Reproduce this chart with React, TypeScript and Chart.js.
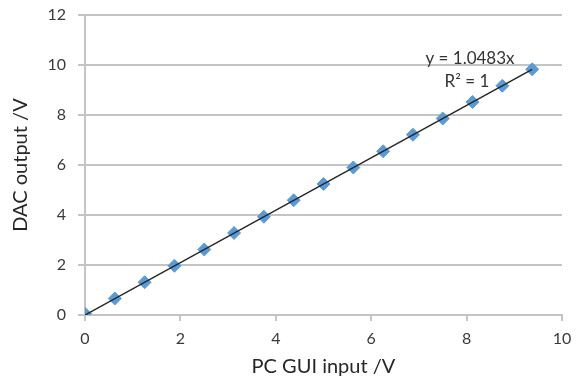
import React, { useEffect, useRef } from "react";
import { Chart, registerables } from "chart.js";

Chart.register(...registerables);

const inputV = [0, 0.625, 1.25, 1.875, 2.5, 3.125, 3.75, 4.375, 5, 5.625, 6.25, 6.875, 7.5, 8.125, 8.75, 9.375];
const outputV = [0.05, 0.66, 1.31, 1.97, 2.62, 3.28, 3.93, 4.59, 5.24, 5.9, 6.55, 7.21, 7.86, 8.52, 9.17, 9.83];
const trendX = [0, 9.375];
const trendY = [0, 9.828];
const equationLines = ["y = 1.0483x", "R² = 1"];
const xTitle = "PC GUI input /V";
const yTitle = "DAC output /V";

const FONT = "Lato, 'Open Sans', sans-serif";

const annotationPlugin = {
  id: "trendLabel",
  afterDatasetsDraw(chart: any) {
    const { ctx, chartArea } = chart;
    ctx.save();
    ctx.fillStyle = "#333333";
    ctx.font = `17px ${FONT}`;
    ctx.textAlign = "center";
    ctx.textBaseline = "middle";
    ctx.fillText(equationLines[0], chartArea.right - 92, chartArea.top + 44);
    ctx.fillText(equationLines[1], chartArea.right - 95, chartArea.top + 67);
    ctx.restore();
  },
};

export default function App() {
  const ref = useRef<HTMLCanvasElement>(null);
  useEffect(() => {
    document.body.style.margin = "0";
    const chart = new Chart(ref.current!, {
      type: "scatter",
      data: {
        datasets: [
          {
            type: "line",
            data: trendX.map((x, i) => ({ x, y: trendY[i] })),
            borderColor: "#262626",
            borderWidth: 1.5,
            pointRadius: 0,
            fill: false,
            order: 0,
          } as any,
          {
            data: inputV.map((x, i) => ({ x, y: outputV[i] })),
            pointStyle: "rectRot",
            pointRadius: 6.5,
            backgroundColor: "#5B9BD5",
            borderColor: "#5B9BD5",
            borderWidth: 1,
            order: 1,
          },
        ],
      },
      options: {
        animation: false,
        responsive: false,
        layout: { padding: { top: 15, right: 14, left: 0, bottom: 0 } },
        plugins: { legend: { display: false }, tooltip: { enabled: false } },
        scales: {
          x: {
            type: "linear",
            min: 0,
            max: 10,
            ticks: { stepSize: 2, color: "#3a3a3a", font: { family: FONT, size: 16 }, padding: 8 },
            grid: { drawOnChartArea: false, drawTicks: true, tickLength: 6, color: "#c4c4c4", lineWidth: 2 },
            border: { color: "#c4c4c4", width: 2 },
            title: { display: true, text: xTitle, color: "#262626", font: { family: FONT, size: 20 }, padding: { top: 0, bottom: 2 } },
            afterFit: (s: any) => { s.height = 66; s.paddingLeft = 0; s.paddingRight = 0; },
          },
          y: {
            type: "linear",
            min: 0,
            max: 12,
            ticks: { stepSize: 2, color: "#3a3a3a", font: { family: FONT, size: 16 }, padding: 12 },
            grid: { drawTicks: true, tickLength: 7, color: "#c4c4c4", lineWidth: 2 },
            border: { color: "#c4c4c4", width: 2 },
            title: { display: true, text: yTitle, color: "#262626", font: { family: FONT, size: 20 }, padding: { top: 9, bottom: 0 } },
            afterFit: (s: any) => { s.width = 85; s.paddingTop = 0; s.paddingBottom = 0; },
          },
        },
      },
      plugins: [annotationPlugin],
    });
    return () => chart.destroy();
  }, []);
  return (
    <div style={{ position: "absolute", left: 0, top: 0, width: 576, height: 381, background: "#fff" }}>
      <canvas ref={ref} width={576} height={381} />
    </div>
  );
}
